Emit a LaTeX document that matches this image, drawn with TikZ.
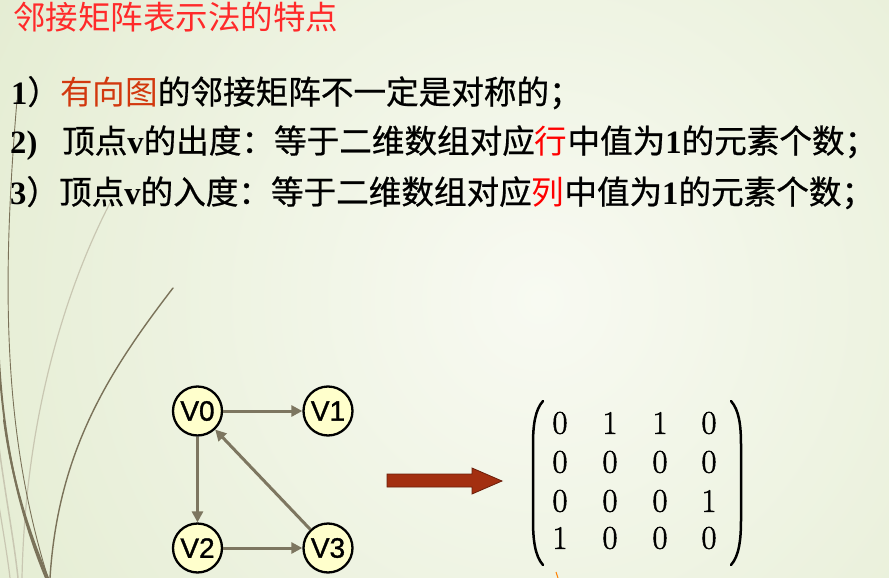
\documentclass[tikz,border=0pt]{standalone}
\usepackage{fontspec}
\newfontfamily\cjk[FakeBold=0.7]{Noto Sans CJK SC}
\newfontfamily\cjkthin{Noto Sans CJK SC}
\newfontfamily\tnr{Liberation Serif}
\newfontfamily\arial[FakeBold=1.2]{Liberation Sans}
\newfontfamily\numfont[FakeBold=1.5]{Latin Modern Roman}
\usetikzlibrary{arrows.meta}
\definecolor{bgin}{HTML}{F8FAF2}
\definecolor{bgout}{HTML}{D8E4BE}
\definecolor{grass}{HTML}{7A7259}
\definecolor{grasslight}{HTML}{C9C7B2}
\definecolor{edgecol}{HTML}{7D7660}
\definecolor{vfill}{HTML}{FFFFCC}
\definecolor{titlered}{HTML}{FF2A2A}
\definecolor{orred}{HTML}{D2380E}
\definecolor{pured}{HTML}{FF0000}
\definecolor{bigarrow}{HTML}{A32F10}
\definecolor{bigarrowline}{HTML}{6A1E0A}
\tikzset{
  txt/.style={anchor=base west, inner sep=0pt, font=\fontsize{32.6}{36}\selectfont},
  vert/.style={circle, draw=black, line width=2.3pt, fill=vfill, minimum size=49pt, inner sep=0pt,
    font=\arial\fontsize{28}{29}\selectfont},
  edgeline/.style={draw=edgecol, line width=3pt, -{Triangle[length=11pt,width=11pt]}},
  num/.style={inner sep=0pt, font=\numfont\fontsize{33}{35}\selectfont},
  paren/.style={line width=2.5pt, line cap=round},
  grassline/.style={draw=grass, line cap=round}
}
\begin{document}
\begin{tikzpicture}[x=1pt,y=-1pt]
\useasboundingbox (0,0) rectangle (889,578);
\begin{scope}
\clip (0,0) rectangle (889,578);
\shade[inner color=bgin, outer color=bgout] (540,300) circle (1040);
% grass decoration
\draw[grasslight, line width=1.2pt] (110,203) .. controls (60,300) and (25,430) .. (22,578);
\draw[grasslight, line width=1.5pt] (-2,440) .. controls (6,500) and (14,540) .. (18,578);
\draw[grasslight, line width=1.2pt] (-2,500) .. controls (3,530) and (8,560) .. (10,578);
\draw[grassline, line width=0.9pt] (17,100) .. controls (2,280) and (2,430) .. (48,578);
\draw[grassline, line width=2pt] (4,420) .. controls (12,480) and (28,530) .. (48,578);
\draw[grassline, line width=2pt] (-1,360) .. controls (4,450) and (22,520) .. (46,578);
\draw[grassline, line width=1.4pt] (173,288) .. controls (110,370) and (58,450) .. (50,578);
\draw[orange, line width=1pt] (556,572) -- (558,578);
\end{scope}
% title
\node[txt, font=\cjkthin\fontsize{32.5}{36}\selectfont, text=titlered] (title) at (13,30) {邻接矩阵表示法的特点};
% line 1
\node[txt] (l1) at (11,104) {{\tnr\bfseries 1}\cjk）{\cjkthin\textcolor{orred}{有向图}}的邻接矩阵不一定是对称的；};
% line 2
\node[txt] (l2a) at (10,153) {\tnr\bfseries 2)};
\node[txt] (l2b) at (62,153) {\cjk 顶点{\tnr\bfseries v}的出度：等于二维数组对应{\cjkthin\textcolor{pured}{行}}中值为{\tnr\bfseries 1}的元素个数；};
% line 3
\node[txt] (l3) at (10,204) {{\tnr\bfseries 3}\cjk）顶点{\tnr\bfseries v}的入度：等于二维数组对应{\cjkthin\textcolor{pured}{列}}中值为{\tnr\bfseries 1}的元素个数；};
% graph
\node[vert] (v0) at (197.5,411) {V0};
\node[vert] (v1) at (328,411) {V1};
\node[vert] (v2) at (197.5,548) {V2};
\node[vert] (v3) at (328,548) {V3};
\draw[edgeline] (v0) -- (v1);
\draw[edgeline] (v0) -- (v2);
\draw[edgeline] (v2) -- (v3);
\draw[edgeline] (v3) -- (v0);
% big arrow
\draw[fill=bigarrow, draw=bigarrowline, line width=0.8pt, line join=miter]
  (387,474) -- (472,474) -- (472,468) -- (502,481) -- (472,494) -- (472,487) -- (387,487) -- cycle;
% matrix
\draw[paren] (543,401) .. controls (535,410) and (533,425) .. (533,445) -- (533,520) .. controls (533,540) and (535,556) .. (543,565);
\draw[paren] (731,401) .. controls (739,410) and (741,425) .. (741,445) -- (741,520) .. controls (741,540) and (739,556) .. (731,565);
\foreach \r/\y in {1/423,2/462,3/501,4/538}{
  \foreach \c/\x in {1/560,2/610,3/660,4/709}{
    \coordinate (m\r\c) at (\x,\y);
  }
}
\node[num] at (m11) {0}; \node[num] at (m12) {1}; \node[num] at (m13) {1}; \node[num] at (m14) {0};
\node[num] at (m21) {0}; \node[num] at (m22) {0}; \node[num] at (m23) {0}; \node[num] at (m24) {0};
\node[num] at (m31) {0}; \node[num] at (m32) {0}; \node[num] at (m33) {0}; \node[num] at (m34) {1};
\node[num] at (m41) {1}; \node[num] at (m42) {0}; \node[num] at (m43) {0}; \node[num] at (m44) {0};
\end{tikzpicture}
\end{document}
